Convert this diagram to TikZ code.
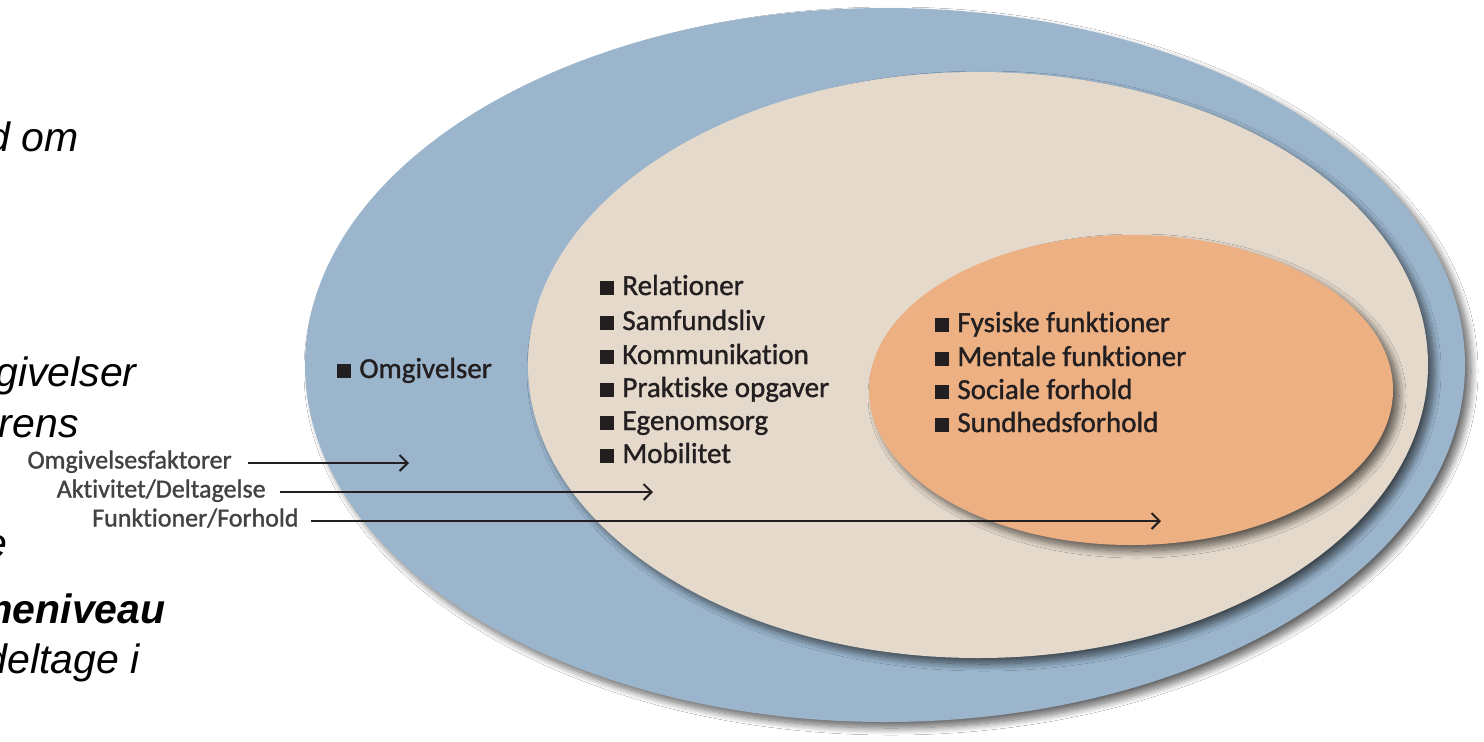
\documentclass[tikz,border=0pt]{standalone}
\usepackage{fontspec}
\setmainfont{Carlito}[Ligatures={NoCommon}]
\newfontfamily\medfont{Carlito}[Ligatures={NoCommon}, FakeBold=1.2]
\newfontfamily\itfont{Liberation Sans}
\usetikzlibrary{shapes.geometric,shadows.blur,arrows.meta}
\definecolor{outerblue}{HTML}{9AB5CC}
\definecolor{beigefill}{HTML}{E5D9CB}
\definecolor{orangefill}{HTML}{EDB083}
\definecolor{ink}{HTML}{231F20}
\newcommand{\bsq}{\rule{7pt}{7pt}\hspace{4pt}}
\begin{document}
\begin{tikzpicture}[x=0.5pt,y=-0.5pt,
  ring/.style={ellipse, inner sep=0pt, draw=none,
    blur shadow={shadow xshift=3pt, shadow yshift=-3pt, shadow blur radius=3.5pt, shadow blur steps=12, shadow opacity=60}},
  listtxt/.style={inner sep=0pt, anchor=base west, font=\medfont\fontsize{14.5}{17}\selectfont, text=ink},
  lbl/.style={inner sep=0pt, anchor=east, font=\medfont\fontsize{13}{15}\selectfont, text=ink!85, text height=1.5ex, text depth=0.35ex},
  frag/.style={inner sep=0pt, anchor=base east, font=\itfont\itshape\fontsize{20.5}{24}\selectfont, text=black},
  arr/.style={draw=ink, line width=1pt, -{Straight Barb[length=4pt,width=8pt,line width=1pt]}}
]
\useasboundingbox (0,0) rectangle (1484,741);
\fill[white] (0,0) rectangle (1484,741);

% ellipses
\node[ring, fill=outerblue, minimum width=580pt, minimum height=357pt] (outer) at (885,365) {};
\node[ring, fill=beigefill, minimum width=450pt, minimum height=293pt] (mid) at (978,365) {};
\node[ring, fill=orangefill, minimum width=262pt, minimum height=155pt] (inner) at (1131,390) {};

% outer label
\node[listtxt] (omg) at (337,378) {\bsq Omgivelser};

% middle list
\node[listtxt] (m1) at (600,295) {\bsq Relationer};
\node[listtxt] (m2) at (600,330) {\bsq Samfundsliv};
\node[listtxt] (m3) at (600,364) {\bsq Kommunikation};
\node[listtxt] (m4) at (600,397) {\bsq Praktiske opgaver};
\node[listtxt] (m5) at (600,430) {\bsq Egenomsorg};
\node[listtxt] (m6) at (600,463) {\bsq Mobilitet};

% inner list
\node[listtxt] (i1) at (935,332) {\bsq Fysiske funktioner};
\node[listtxt] (i2) at (935,366) {\bsq Mentale funktioner};
\node[listtxt] (i3) at (935,399) {\bsq Sociale forhold};
\node[listtxt] (i4) at (935,432) {\bsq Sundhedsforhold};

% arrow labels
\node[lbl] (l1) at (232,463) {Omgivelsesfaktorer};
\node[lbl] (l2) at (266,492) {Aktivitet/Deltagelse};
\node[lbl] (l3) at (299,521) {Funktioner/Forhold};
\coordinate (e1) at (409,463);
\coordinate (e2) at (653,492);
\coordinate (e3) at (1161,521);
\draw[arr] ([xshift=8pt]l1.east) -- (e1);
\draw[arr] ([xshift=7pt]l2.east) -- (e2);
\draw[arr] ([xshift=6pt]l3.east) -- (e3);

% cut-off text fragments at left
\node[frag] (f1) at (79,151) {d om};
\node[frag] (f2) at (137,386) {givelser};
\node[frag] (f3) at (79,437) {rens};
\node[frag] (f4) at (8,557) {e};
\node[frag, font=\itfont\bfseries\itshape\fontsize{20.5}{24}\selectfont] (f5) at (166,623) {meniveau};
\node[frag] (f6) at (140,673) {deltage i};
\end{tikzpicture}
\end{document}
